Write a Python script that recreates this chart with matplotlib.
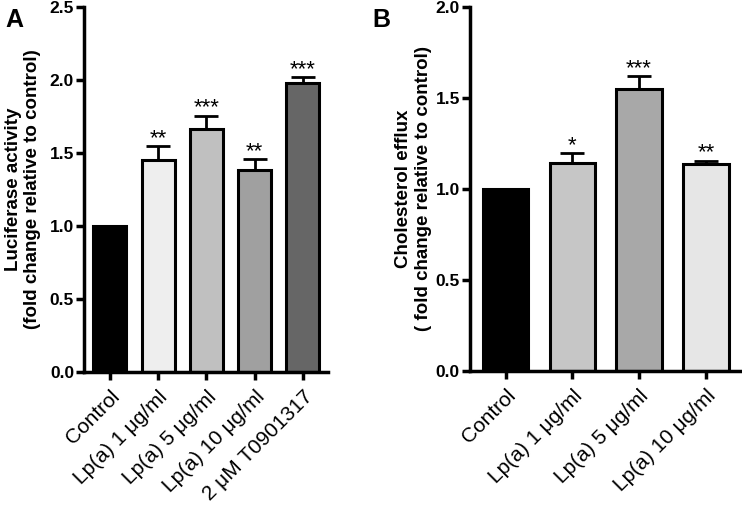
import matplotlib.pyplot as plt
import numpy as np

plt.rcParams['font.family'] = ['Liberation Sans', 'DejaVu Sans']

# Panel A: luciferase activity
labelsA = ["Control", "Lp(a) 1 μg/ml", "Lp(a) 5 μg/ml", "Lp(a) 10 μg/ml", "2 μM T0901317"]
valuesA = [1.0, 1.45, 1.665, 1.385, 1.98]
errorsA = [0.0, 0.095, 0.09, 0.07, 0.04]
starsA = ["", "**", "***", "**", "***"]
colorsA = ["#000000", "#eeeeee", "#c0c0c0", "#a0a0a0", "#666666"]

# Panel B: cholesterol efflux
labelsB = ["Control", "Lp(a) 1 μg/ml", "Lp(a) 5 μg/ml", "Lp(a) 10 μg/ml"]
valuesB = [1.0, 1.14, 1.55, 1.135]
errorsB = [0.0, 0.055, 0.07, 0.02]
starsB = ["", "*", "***", "**"]
colorsB = ["#000000", "#c6c6c6", "#a8a8a8", "#e6e6e6"]

fig = plt.figure(figsize=(7.42, 5.05), dpi=100)
axA = fig.add_axes([0.113, 0.264, 0.329, 0.722])
axB = fig.add_axes([0.633, 0.266, 0.365, 0.720])


def draw(ax, labels, values, errors, stars, colors, ylim, yticks, ylabel, labelx):
    x = np.arange(len(labels))
    ax.bar(x, values, width=0.68, color=colors, edgecolor="black", linewidth=2.2, zorder=2)
    yerr = [np.zeros(len(errors)), errors]
    mask = np.array(errors) > 0
    ax.errorbar(x[mask], np.array(values)[mask], yerr=np.array(yerr)[:, mask], fmt="none",
                ecolor="black", elinewidth=2, capsize=8.5, capthick=2, zorder=1)
    for xi, v, e, s in zip(x, values, errors, stars):
        if s:
            ax.annotate(s, xy=(xi, v + e), xytext=(0, -2), textcoords="offset points",
                        ha="center", va="bottom", fontsize=16)
    ax.set_ylim(*ylim)
    ax.set_xlim(-0.54, len(labels) - 0.48)
    ax.set_yticks(yticks)
    ax.set_yticklabels(["%.1f" % t for t in yticks], fontsize=12.5, fontweight="bold")
    ax.set_xticks(x)
    ax.set_xticklabels(labels, rotation=45, ha="right", rotation_mode="anchor",
                       fontsize=15)
    ax.set_ylabel(ylabel, fontsize=13.5, fontweight="bold")
    ax.yaxis.set_label_coords(labelx, 0.5)
    for side in ["top", "right"]:
        ax.spines[side].set_visible(False)
    for side in ["left", "bottom"]:
        ax.spines[side].set_linewidth(2.5)
    ax.tick_params(width=2.5, length=6, direction="out")
    ax.tick_params(axis="y", pad=1)
    ax.tick_params(axis="x", pad=5)


draw(axA, labelsA, valuesA, errorsA, starsA, colorsA, (0, 2.5),
     [0.0, 0.5, 1.0, 1.5, 2.0, 2.5],
     "Luciferase activity\n(fold change relative to control)", -0.175)
draw(axB, labelsB, valuesB, errorsB, starsB, colorsB, (0, 2.0),
     [0.0, 0.5, 1.0, 1.5, 2.0],
     "Cholesterol efflux\n( fold change relative to control)", -0.14)

fig.text(0.007, 0.985, "A", fontsize=18, fontweight="bold", va="top")
fig.text(0.502, 0.985, "B", fontsize=18, fontweight="bold", va="top")

fig.savefig("out.png", dpi=100)
